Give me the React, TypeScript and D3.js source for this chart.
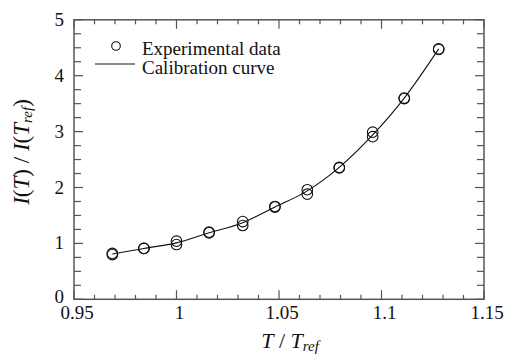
import * as d3 from "d3";

// T / Tref for every measurement
const tRatio = [0.9687, 0.9841, 1.0, 1.0159, 1.0323, 1.048, 1.0638, 1.0794, 1.0957, 1.1111, 1.1279];
// two runs of I(T)/I(Tref)
const run1 = [0.82, 0.91, 1.04, 1.2, 1.39, 1.66, 1.96, 2.36, 2.99, 3.6, 4.48];
const run2 = [0.8, 0.91, 0.98, 1.19, 1.32, 1.65, 1.88, 2.35, 2.91, 3.59, 4.47];
// calibration curve read at the same T / Tref
const calib = [0.81, 0.91, 1.01, 1.19, 1.37, 1.65, 1.94, 2.36, 2.94, 3.6, 4.48];

const xTickLabels = ["0.95", "1", "1.05", "1.1", "1.15"];
const yTickLabels = ["0", "1", "2", "3", "4", "5"];

const W = 511;
const H = 355;
const left = 74, right = 484, top = 19.8, bottom = 299.3;
const font = "'Liberation Serif', 'DejaVu Serif', 'Noto Serif', serif";
const axisColor = "#555";

export default function App() {
  const x = d3.scaleLinear().domain([0.95, 1.15]).range([left, right]);
  const y = d3.scaleLinear().domain([0, 5]).range([bottom, top]);

  const xMinor = d3.range(0, 21).map((i) => 0.95 + i * 0.01);
  const yMinor = d3.range(0, 21).map((i) => i * 0.25);

  const line = d3
    .line<number>()
    .x((_, i) => x(tRatio[i]))
    .y((d) => y(d))
    .curve(d3.curveMonotoneX);

  const points = [
    ...tRatio.map((t, i) => ({ t, v: run1[i] })),
    ...tRatio.map((t, i) => ({ t, v: run2[i] })),
  ];

  return (
    <svg
      width={W}
      height={H}
      style={{ position: "absolute", left: 0, top: 0, background: "#fff", fontFamily: font }}
    >
      {/* minor + major ticks, all four sides, pointing inward */}
      <g stroke={axisColor} strokeWidth={1.2}>
        {xMinor.map((v, i) => {
          const len = i % 5 === 0 ? 9 : 4.5;
          return (
            <g key={"xt" + i}>
              <line x1={x(v)} x2={x(v)} y1={bottom} y2={bottom - len} />
              <line x1={x(v)} x2={x(v)} y1={top} y2={top + len} />
            </g>
          );
        })}
        {yMinor.map((v, i) => {
          const len = i % 4 === 0 ? 9 : 7;
          return (
            <g key={"yt" + i}>
              <line x1={left} x2={left + len} y1={y(v)} y2={y(v)} />
              <line x1={right} x2={right - len} y1={y(v)} y2={y(v)} />
            </g>
          );
        })}
      </g>
      <rect
        x={left}
        y={top}
        width={right - left}
        height={bottom - top}
        fill="none"
        stroke={axisColor}
        strokeWidth={1.5}
      />

      {/* tick labels */}
      <g style={{ fontSize: 19 }} fill="#111">
        {xTickLabels.map((s) => (
          <text key={s} x={x(+s) + 3} y={319} textAnchor="middle">
            {s}
          </text>
        ))}
        {yTickLabels.map((s) => (
          <text key={s} x={64} y={y(+s) + (s === "0" ? 4 : 6)} textAnchor="end">
            {s}
          </text>
        ))}
      </g>

      {/* curve and data */}
      <path d={line(calib) ?? ""} fill="none" stroke="#111" strokeWidth={1.1} />
      {points.map((p, i) => (
        <circle
          key={i}
          cx={x(p.t)}
          cy={y(p.v)}
          r={5.3}
          fill="none"
          stroke="#111"
          strokeWidth={1.1}
        />
      ))}

      {/* legend */}
      <circle cx={116} cy={46} r={4.3} fill="none" stroke="#111" strokeWidth={1.1} />
      <text x={142} y={54.5} style={{ fontSize: 19 }} fill="#111">
        Experimental data
      </text>
      <line x1={95} x2={135} y1={64} y2={64} stroke="#111" strokeWidth={1.1} />
      <text x={142} y={74} style={{ fontSize: 19 }} fill="#111">
        Calibration curve
      </text>

      {/* axis titles */}
      <text x={290} y={348} style={{ fontSize: 22 }} textAnchor="middle" fill="#111">
        <tspan fontStyle="italic">T</tspan>
        <tspan>{" / "}</tspan>
        <tspan fontStyle="italic">T</tspan>
        <tspan fontStyle="italic" style={{ fontSize: 15 }} dy={3}>ref</tspan>
      </text>
      <text
        transform="translate(29,152) rotate(-90)"
        style={{ fontSize: 23 }}
        textAnchor="middle"
        fill="#111"
      >
        <tspan fontStyle="italic">I</tspan>
        <tspan>(</tspan>
        <tspan fontStyle="italic">T</tspan>
        <tspan>{") / "}</tspan>
        <tspan fontStyle="italic">I</tspan>
        <tspan>(</tspan>
        <tspan fontStyle="italic">T</tspan>
        <tspan fontStyle="italic" style={{ fontSize: 15 }} dy={3}>ref</tspan>
        <tspan dy={-3}>)</tspan>
      </text>
    </svg>
  );
}
